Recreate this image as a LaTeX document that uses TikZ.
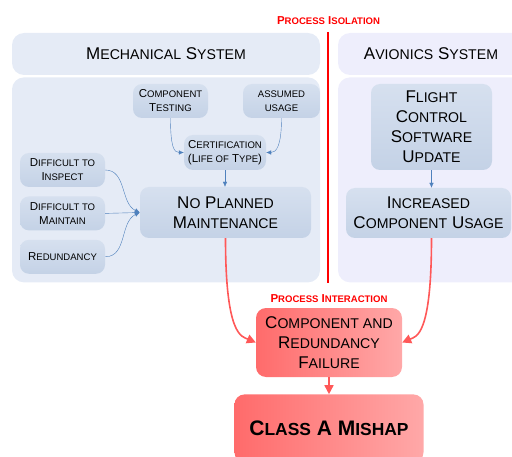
\documentclass[tikz,border=0pt]{standalone}
\usepackage{fontspec}
\setmainfont{Liberation Sans}
\usetikzlibrary{positioning,arrows.meta}
\makeatletter
% fake small caps: lower part at 83% of the running size
\newcommand{\lc}[1]{{\fontsize{\dimexpr\f@size pt*83/100\relax}{\f@baselineskip}\selectfont#1}}
\makeatother
\definecolor{mechbg}{HTML}{E5EBF6}
\definecolor{avibg}{HTML}{EEEEFC}
\definecolor{boxtop}{HTML}{D6E0EF}
\definecolor{boxbot}{HTML}{C4D2E6}
\definecolor{linkblue}{HTML}{4F81BD}
\definecolor{flowred}{HTML}{FF5858}
\definecolor{redA}{HTML}{FF6B6B}
\definecolor{redB}{HTML}{FFA8A8}

\begin{document}
\begin{tikzpicture}[x=1pt,y=1pt,
      region/.style = {fill=#1, rounded corners=12pt, inner sep=0pt},
      cause/.style = {rounded corners=9pt, top color=boxtop, bottom color=boxbot,
         inner sep=0pt, align=center},
      minor/.style = {cause, font=\fontsize{11.5}{14}\selectfont, minimum height=34pt},
      major/.style = {cause, font=\fontsize{17}{20}\selectfont},
      result/.style = {rounded corners=10pt, left color=redA, right color=redB,
         inner sep=0pt, align=center},
      link/.style = {linkblue, -{Latex[length=5pt,width=4.5pt]}},
      flow/.style = {flowred, line width=1.6pt, -{Triangle[length=9pt,width=9pt]}},
      sidelabel/.style = {red, font=\bfseries\fontsize{11.5}{12}\selectfont}]

   \clip (0,0) rectangle (512,456);

   % system panels
   \node[region=mechbg, minimum width=308pt, minimum height=42pt,
      font=\fontsize{17}{20}\selectfont] (mechhead) at (166,402)
      {M\lc{ECHANICAL} S\lc{YSTEM}};
   \node[region=mechbg, minimum width=308pt, minimum height=205pt,
      below=2pt of mechhead] (mechbody) {};
   \node[region=avibg, minimum width=186pt, minimum height=42pt,
      font=\fontsize{17}{20}\selectfont] (avihead) at (431,402)
      {A\lc{VIONICS} S\lc{YSTEM}};
   \node[region=avibg, minimum width=186pt, minimum height=205pt,
      below=2pt of avihead] (avibody) {};

   % process isolation
   \node[sidelabel] (iso) at (328.5,435) {P\lc{ROCESS} I\lc{SOLATION}};
   \draw[red, line width=2.5pt] (328,424) -- (328,173);

   % mechanical causes
   \node[minor, minimum width=75pt] (ctest) at (170.5,355)
      {C\lc{OMPONENT}\\T\lc{ESTING}};
   \node[minor, minimum width=77pt] (usage) at (281.5,355)
      {\lc{ASSUMED}\\\lc{USAGE}};
   \node[minor, minimum width=82pt, minimum height=35pt] (cert) at (225,303.5)
      {C\lc{ERTIFICATION}\\(L\lc{IFE OF} T\lc{YPE})};
   \node[minor, minimum width=85pt] (dinsp) at (62.5,286)
      {D\lc{IFFICULT TO}\\I\lc{NSPECT}};
   \node[minor, minimum width=85pt, below=9pt of dinsp] (dmaint)
      {D\lc{IFFICULT TO}\\M\lc{AINTAIN}};
   \node[minor, minimum width=85pt, below=9pt of dmaint] (redund)
      {R\lc{EDUNDANCY}};
   \node[major, minimum width=171pt, minimum height=51pt] (noplan) at (225.5,243.5)
      {N\lc{O} P\lc{LANNED}\\M\lc{AINTENANCE}};

   % avionics causes
   \node[major, minimum width=121pt, minimum height=86pt] (fcsu) at (431.5,329)
      {F\lc{LIGHT}\\C\lc{ONTROL}\\S\lc{OFTWARE}\\U\lc{PDATE}};
   \node[major, minimum width=165pt, minimum height=50pt] (incr) at (428.5,243)
      {I\lc{NCREASED}\\C\lc{OMPONENT} U\lc{SAGE}};

   % process interaction
   \node[sidelabel] (inter) at (329,157.5) {P\lc{ROCESS} I\lc{NTERACTION}};
   \node[result, minimum width=146pt, minimum height=69pt,
      font=\fontsize{17}{20}\selectfont] (fail) at (329,113.5)
      {C\lc{OMPONENT AND}\\R\lc{EDUNDANCY}\\F\lc{AILURE}};
   \node[result, minimum width=189pt, minimum height=68pt, below=17pt of fail,
      font=\bfseries\fontsize{21}{24}\selectfont] (mishap)
      {C\lc{LASS} A M\lc{ISHAP}};

   % blue links
   \draw[link] (ctest.south) .. controls +(0,-28) and +(-10,0) .. (cert.west);
   \draw[link] (usage.south) .. controls +(0,-28) and +(10,0) .. (cert.east);
   \draw[link] (cert.south) -- (cert.south |- noplan.north);
   \draw[link] (dinsp.east) to[out=0, in=155] (noplan.west);
   \draw[link] (dmaint.east) -- (noplan.west);
   \draw[link] (redund.east) to[out=0, in=205] (noplan.west);
   \draw[link] (fcsu.south) -- (fcsu.south |- incr.north);

   % red flows
   \draw[flow] (noplan.south) .. controls +(0,-98) and +(-14,6) .. (fail.west);
   \draw[flow] ([xshift=3pt]incr.south) .. controls +(0,-98) and +(14,6) .. (fail.east);
   \draw[flow] (fail.south) -- (mishap.north);
\end{tikzpicture}
\end{document}
